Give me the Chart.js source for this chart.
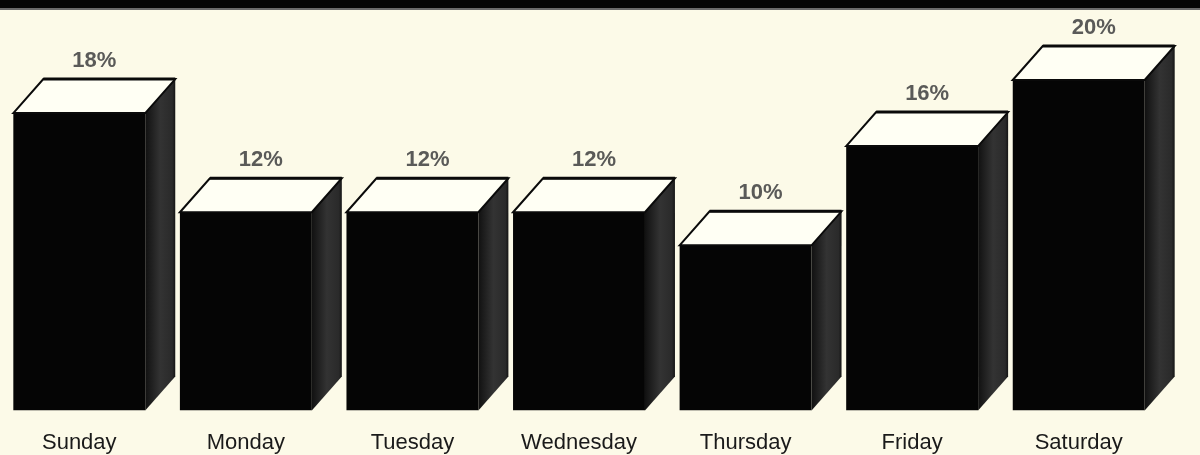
<!DOCTYPE html>
<html>
<head>
<meta charset="utf-8">
<script src="https://cdn.jsdelivr.net/npm/chart.js@4/dist/chart.umd.min.js"></script>
<style>
  html, body { margin: 0; padding: 0; background: #fcfae8; overflow: hidden; width: 1200px; height: 455px; }
  .top-band { position: absolute; left: 0; top: 0; width: 1200px; height: 8px; background: #050505; border-bottom: 2px solid #6a6a6a; z-index: 2; }
  .chart-wrap { position: absolute; left: -4px; top: 0; width: 1204px; height: 478px; }
</style>
</head>
<body>
<div class="top-band"></div>
<div class="chart-wrap"><canvas id="days-chart"></canvas></div>
<script>
const days = ['Sunday', 'Monday', 'Tuesday', 'Wednesday', 'Thursday', 'Friday', 'Saturday'];
const shares = [18, 12, 12, 12, 10, 16, 20];
const shareLabels = ['18%', '12%', '12%', '12%', '10%', '16%', '20%'];

const depthX = 30;
const depthY = 34;

// draws the top and side of each bar so it looks like a box
const boxPlugin = {
  id: 'boxes',
  afterDatasetsDraw(chart) {
    const ctx = chart.ctx;
    const meta = chart.getDatasetMeta(0);

    meta.data.forEach((bar, i) => {
      const left = bar.x - bar.width / 2;
      const right = bar.x + bar.width / 2;
      const top = bar.y;
      const bottom = bar.base;

      ctx.save();

      // side face
      const grad = ctx.createLinearGradient(right, 0, right + depthX, 0);
      grad.addColorStop(0, '#111111');
      grad.addColorStop(0.5, '#333333');
      grad.addColorStop(0.9, '#2a2a2a');
      grad.addColorStop(1, '#151515');
      ctx.beginPath();
      ctx.moveTo(right, top);
      ctx.lineTo(right + depthX, top - depthY);
      ctx.lineTo(right + depthX, bottom - depthY);
      ctx.lineTo(right, bottom);
      ctx.closePath();
      ctx.fillStyle = grad;
      ctx.fill();

      // top face
      ctx.beginPath();
      ctx.moveTo(left, top);
      ctx.lineTo(left + depthX, top - depthY);
      ctx.lineTo(right + depthX, top - depthY);
      ctx.lineTo(right, top);
      ctx.closePath();
      ctx.fillStyle = '#fffff4';
      ctx.fill();
      ctx.strokeStyle = '#0a0a0a';
      ctx.lineWidth = 2;
      ctx.stroke();

      // heavier back edge
      ctx.beginPath();
      ctx.moveTo(left + depthX, top - depthY);
      ctx.lineTo(right + depthX, top - depthY);
      ctx.lineWidth = 3;
      ctx.stroke();

      // value label
      ctx.fillStyle = '#5a5a58';
      ctx.font = 'bold 22px "Liberation Sans", Arial, sans-serif';
      ctx.textAlign = 'center';
      ctx.textBaseline = 'alphabetic';
      ctx.fillText(shareLabels[i], bar.x + depthX / 2, top - depthY - 12);

      ctx.restore();
    });
  }
};

new Chart(document.querySelector('#days-chart'), {
  type: 'bar',
  data: {
    labels: days,
    datasets: [{
      data: shares,
      backgroundColor: '#050505',
      borderWidth: 0,
      categoryPercentage: 1,
      barPercentage: 0.792
    }]
  },
  options: {
    responsive: true,
    maintainAspectRatio: false,
    animation: false,
    events: [],
    layout: {
      padding: { top: 80, right: 38, bottom: 3, left: 0 }
    },
    scales: {
      x: {
        border: { display: false },
        grid: { display: false, drawTicks: false },
        ticks: {
          padding: 19,
          color: '#1a1a1a',
          font: { family: '"Liberation Sans", Arial, sans-serif', size: 22 }
        }
      },
      y: {
        display: false,
        min: 0,
        max: 20
      }
    },
    plugins: {
      legend: { display: false },
      tooltip: { enabled: false }
    }
  },
  plugins: [boxPlugin]
});
</script>
</body>
</html>
